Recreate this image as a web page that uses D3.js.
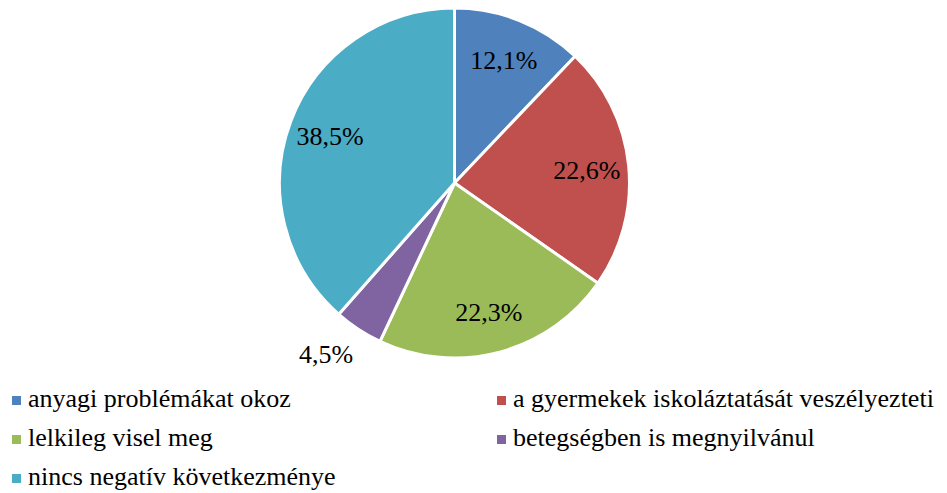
<!DOCTYPE html>
<html><head><meta charset="utf-8">
<script src="https://cdn.jsdelivr.net/npm/d3@7"></script>
</head><body>
<svg id="chart" width="947" height="493"></svg>
<script>
const categories = ["anyagi problémákat okoz","a gyermekek iskoláztatását veszélyezteti","lelkileg visel meg","betegségben is megnyilvánul","nincs negatív következménye"];
const values = [12.1, 22.6, 22.3, 4.5, 38.5];
const labels = ["12,1%","22,6%","22,3%","4,5%","38,5%"];
const colors = ["#4F81BD","#C0504D","#9BBB59","#8064A2","#4BACC6"];

const FONT = '"Liberation Serif", "Times New Roman", serif';
const svg = d3.select("#chart");
// body keeps its default 8px margin; shift content back so page coordinates match
const root = svg.append("g").attr("transform","translate(-8,-8)");
const cx = 454.5, cy = 183, R = 175;
const data = categories.map((c,i)=>({cat:c, value:values[i], label:labels[i], color:colors[i]}));
const pie = d3.pie().sort(null).value(d=>d.value);
const arcs = pie(data);
const arc = d3.arc().innerRadius(0).outerRadius(R);
const labelArc = d3.arc().innerRadius(R*0.76).outerRadius(R*0.76);
const outArc = d3.arc().innerRadius(R*1.17).outerRadius(R*1.17);

const g = root.append("g").attr("transform",`translate(${cx},${cy})`);
g.selectAll("path").data(arcs).join("path")
  .attr("d",arc).attr("fill",d=>d.data.color)
  .attr("stroke","#fff").attr("stroke-width",3).attr("stroke-linejoin","round");

g.selectAll("text.lbl").data(arcs).join("text").attr("class","lbl")
  .attr("transform",d=>{
    const inside = d.data.value > 6;
    const [x,y] = inside ? labelArc.centroid(d) : outArc.centroid(d);
    return `translate(${inside?x:x-16},${y})`;
  })
  .attr("text-anchor","middle").attr("dy","0.35em")
  .style("font-family",FONT,"important").style("font-size","26px","important").attr("fill","#000")
  .text(d=>d.data.label);

// legend
const colX = [12, 497], rowBase = [407, 446, 485];
const leg = root.append("g");
data.forEach((d,i)=>{
  const x = colX[i%2], y = rowBase[Math.floor(i/2)];
  leg.append("rect").attr("x",x).attr("y",y-11).attr("width",9).attr("height",9).attr("fill",d.color);
  leg.append("text").attr("x",x+16).attr("y",y)
    .style("font-family",FONT,"important").style("font-size","26px","important").attr("fill","#000").text(d.cat);
});
</script>
</body></html>
